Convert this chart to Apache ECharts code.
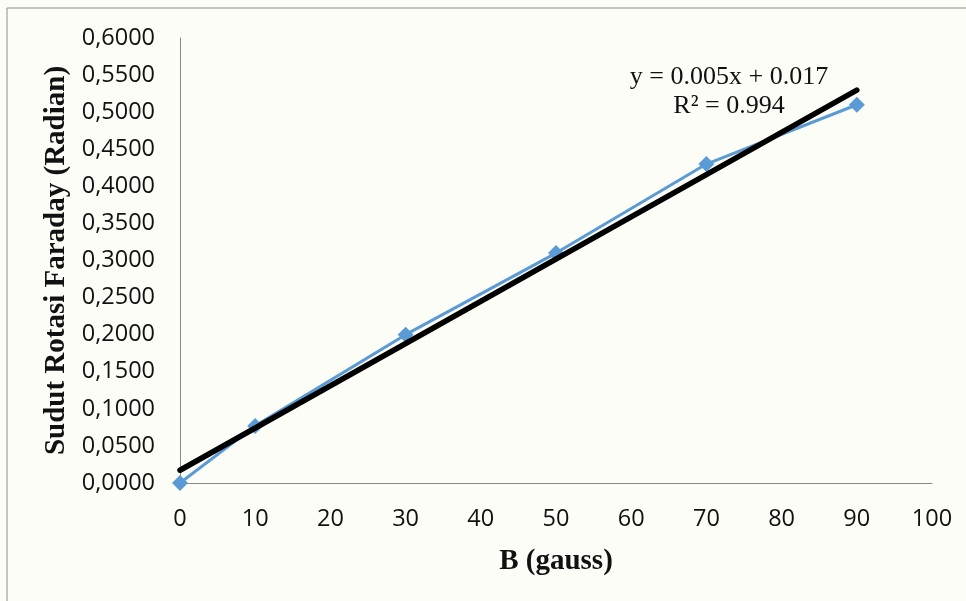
<!DOCTYPE html>
<html>
<head>
<meta charset="utf-8">
<script src="https://cdn.jsdelivr.net/npm/echarts@6/dist/echarts.min.js"></script>
<style>
  html, body { margin: 0; padding: 0; background: #fdfdf8; }
  #chart { width: 966px; height: 601px; }
</style>
</head>
<body>
<div id="chart"></div>
<script>
// Magnetic field strength B (gauss) and measured Faraday rotation angle (radian)
const fieldB = [0, 10, 30, 50, 70, 90];
const rotation = [0.0000, 0.0770, 0.2000, 0.3100, 0.4300, 0.5100];

// Axis ranges and tick steps
const xMin = 0, xMax = 100, xStep = 10;
const yMin = 0, yMax = 0.6, yStep = 0.05;

// Trendline text
const equationText = 'y = 0.005x + 0.017';
const r2Text = 'R² = 0.994';

// Least-squares linear fit of the measured points
function linearFit(xs, ys) {
  const n = xs.length;
  const mx = xs.reduce((a, b) => a + b, 0) / n;
  const my = ys.reduce((a, b) => a + b, 0) / n;
  let sxy = 0, sxx = 0;
  for (let i = 0; i < n; i++) {
    sxy += (xs[i] - mx) * (ys[i] - my);
    sxx += (xs[i] - mx) * (xs[i] - mx);
  }
  const slope = sxy / sxx;
  return { slope, intercept: my - slope * mx };
}
const fit = linearFit(fieldB, rotation);
const xFirst = fieldB[0], xLast = fieldB[fieldB.length - 1];
const trendPoints = [
  [xFirst, fit.intercept + fit.slope * xFirst],
  [xLast, fit.intercept + fit.slope * xLast]
];

const chart = echarts.init(document.getElementById('chart'), null, { renderer: 'canvas' });

const tickFont = { fontFamily: 'Open Sans', fontSize: 23.5, color: '#111' };
const titleFont = { fontFamily: 'Liberation Serif', fontWeight: 'bold', fontSize: 29, color: '#111' };

chart.setOption({
  backgroundColor: '#fdfdf8',
  animation: false,
  grid: { left: 180, right: 34, top: 38, bottom: 118, containLabel: false },
  graphic: [
    {
      type: 'rect',
      shape: { x: 7, y: 8, width: 1000, height: 700 },
      style: { fill: 'none', stroke: '#8c8c8c', lineWidth: 1 },
      silent: true,
      z: -1
    },
    {
      type: 'text',
      x: 729, y: 63,
      style: {
        text: equationText + '\n' + r2Text,
        align: 'center',
        verticalAlign: 'top',
        fontFamily: 'Liberation Serif',
        fontSize: 26,
        lineHeight: 29,
        fill: '#111'
      },
      z: 10
    }
  ],
  xAxis: {
    type: 'value',
    min: xMin, max: xMax, interval: xStep,
    name: 'B (gauss)',
    nameLocation: 'middle',
    nameGap: 64,
    nameTextStyle: titleFont,
    axisLine: { show: true, lineStyle: { color: '#888', width: 1 } },
    axisTick: { show: false },
    splitLine: { show: false },
    axisLabel: Object.assign({ margin: 24 }, tickFont)
  },
  yAxis: {
    type: 'value',
    min: yMin, max: yMax, interval: yStep,
    name: 'Sudut Rotasi Faraday (Radian)',
    nameLocation: 'middle',
    nameGap: 104,
    nameTextStyle: titleFont,
    axisLine: { show: true, lineStyle: { color: '#888', width: 1 } },
    axisTick: { show: false },
    splitLine: { show: false },
    axisLabel: Object.assign({
      margin: 25,
      formatter: v => v.toFixed(4).replace('.', ',')
    }, tickFont)
  },
  series: [
    {
      type: 'line',
      data: fieldB.map((x, i) => [x, rotation[i]]),
      symbol: 'diamond',
      symbolSize: 16,
      showSymbol: true,
      lineStyle: { color: '#5b9bd5', width: 3 },
      itemStyle: { color: '#5b9bd5' },
      z: 2
    },
    {
      type: 'line',
      data: trendPoints,
      symbol: 'none',
      lineStyle: { color: '#000', width: 5.5, cap: 'round' },
      z: 3
    }
  ]
});
</script>
</body>
</html>
